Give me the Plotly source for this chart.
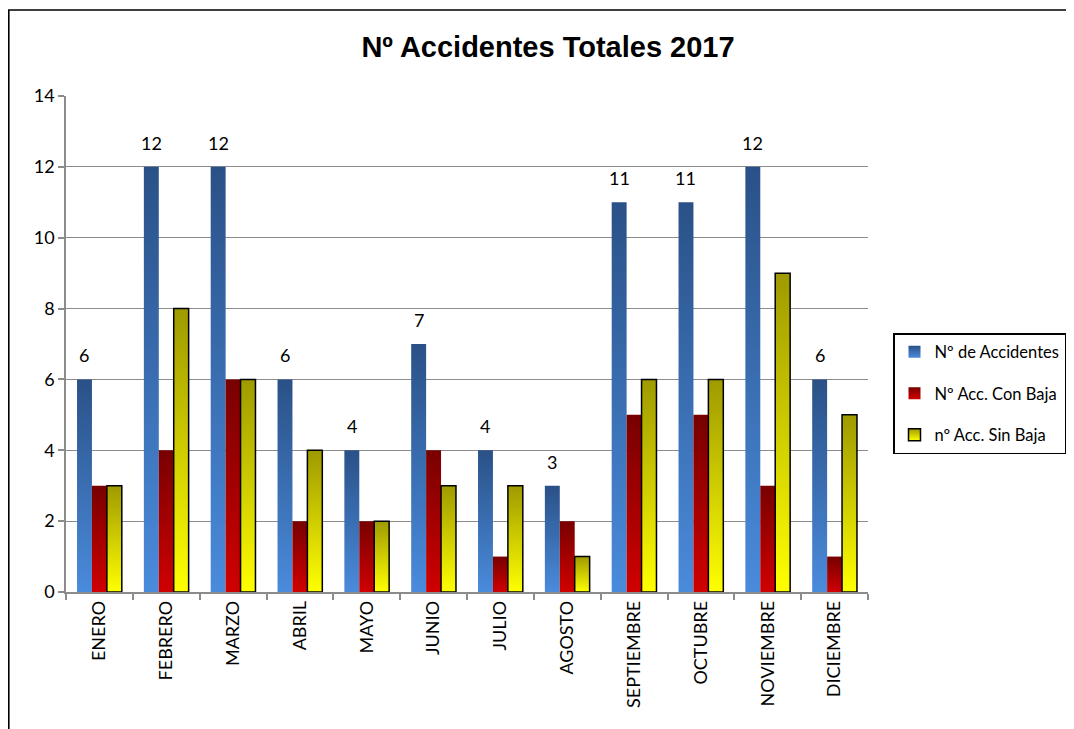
import plotly.graph_objects as go

meses = ["ENERO", "FEBRERO", "MARZO", "ABRIL", "MAYO", "JUNIO", "JULIO",
         "AGOSTO", "SEPTIEMBRE", "OCTUBRE", "NOVIEMBRE", "DICIEMBRE"]
accidentes = [6, 12, 12, 6, 4, 7, 4, 3, 11, 11, 12, 6]
con_baja = [3, 4, 6, 2, 2, 4, 1, 2, 5, 5, 3, 1]
sin_baja = [3, 8, 6, 4, 2, 3, 3, 1, 6, 6, 9, 5]

font_txt = "Lato, Open Sans, sans-serif"
grid = "#8c8c8c"

fig = go.Figure()
fig.add_trace(go.Bar(x=meses, y=accidentes, name="Nº de Accidentes",
                     marker=dict(color="#3b6db0", line=dict(width=0)),
                     legendgroup="a"))
fig.add_trace(go.Bar(x=meses, y=con_baja, name="Nº Acc. Con Baja",
                     marker=dict(color="#a30000", line=dict(width=0)),
                     legendgroup="b"))
fig.add_trace(go.Bar(x=meses, y=sin_baja, name="nº Acc. Sin Baja",
                     marker=dict(color="#dcd400", line=dict(width=1.5, color="black")),
                     legendgroup="c"))

# data labels above the blue bars
for m, v in zip(meses, accidentes):
  fig.add_annotation(x=m, y=v, text=str(v), showarrow=False,
                     xshift=-15, yshift=24, yanchor="middle",
                     font=dict(family=font_txt, size=18, color="black"))

# page has an 8px body margin, so figure coords = page coords - 8
x0p, x1p = 58, 860
y0p, y1p = 584, 88
def px(x):
  return (x - x0p) / (x1p - x0p)
def py(y):
  return (y0p - y) / (y0p - y1p)

# outer chart border (bottom and right run off the picture)
fig.add_shape(type="rect", xref="paper", yref="paper",
              x0=px(0.8), x1=px(1090), y0=py(760), y1=py(2),
              line=dict(color="black", width=1.6), layer="above")

fig.update_layout(
    width=1074, height=729,
    margin=dict(l=58, r=1074 - 860, t=88, b=729 - 584, autoexpand=False),
    plot_bgcolor="white", paper_bgcolor="white",
    barmode="group", bargap=0.33, bargroupgap=0,
    title=dict(text="<b>Nº Accidentes Totales 2017</b>", x=540 / 1074, xanchor="center",
               y=1 - 39 / 729, yanchor="middle",
               font=dict(family="Liberation Sans, Arial", size=29, color="black")),
    legend=dict(x=px(885), y=py(325), xanchor="left", yanchor="top",
                bordercolor="black", borderwidth=1.5, bgcolor="white",
                font=dict(family=font_txt, size=16.5, color="black"),
                itemwidth=30, tracegroupgap=17, traceorder="grouped"),
    xaxis=dict(showline=True, linecolor=grid, linewidth=1.5,
               ticks="outside", tickson="boundaries", ticklen=6, tickcolor=grid,
               tickwidth=1.5, tickangle=-90, automargin=False,
               tickfont=dict(family=font_txt, size=18, color="black")),
    yaxis=dict(range=[0, 14], dtick=2, showline=True, linecolor=grid, linewidth=1.5,
               ticks="outside", ticklen=6, tickcolor=grid, tickwidth=1.5,
               showgrid=True, gridcolor=grid, gridwidth=1.2, zeroline=False,
               automargin=False,
               tickfont=dict(family=font_txt, size=18, color="black")),
)

# vertical gradients like the original spreadsheet chart
post = """
var gd = document.getElementById('{plot_id}');
var svg = gd.querySelector('.main-svg');
var ns = 'http://www.w3.org/2000/svg';
var defs = svg.querySelector('defs') || svg.insertBefore(document.createElementNS(ns, 'defs'), svg.firstChild);
var cols = [['#2a5187', '#4a8bdc'], ['#780000', '#d00000'], ['#9f9a00', '#ffff00']];
cols.forEach(function(c, i) {
  var g = document.createElementNS(ns, 'linearGradient');
  g.setAttribute('id', 'grad' + i);
  g.setAttribute('x1', '0'); g.setAttribute('y1', '0');
  g.setAttribute('x2', '0'); g.setAttribute('y2', '1');
  [[0, c[0]], [1, c[1]]].forEach(function(s) {
    var st = document.createElementNS(ns, 'stop');
    st.setAttribute('offset', s[0]);
    st.setAttribute('stop-color', s[1]);
    g.appendChild(st);
  });
  defs.appendChild(g);
});
gd.querySelectorAll('.barlayer .trace.bars').forEach(function(t, i) {
  t.querySelectorAll('path').forEach(function(p) { p.style.fill = 'url(#grad' + i + ')'; });
});
gd.querySelectorAll('.legend .traces').forEach(function(t, i) {
  t.querySelectorAll('.legendpoints path').forEach(function(p) { p.style.fill = 'url(#grad' + i + ')'; });
});
"""

fig.write_html("out.html", post_script=post)
